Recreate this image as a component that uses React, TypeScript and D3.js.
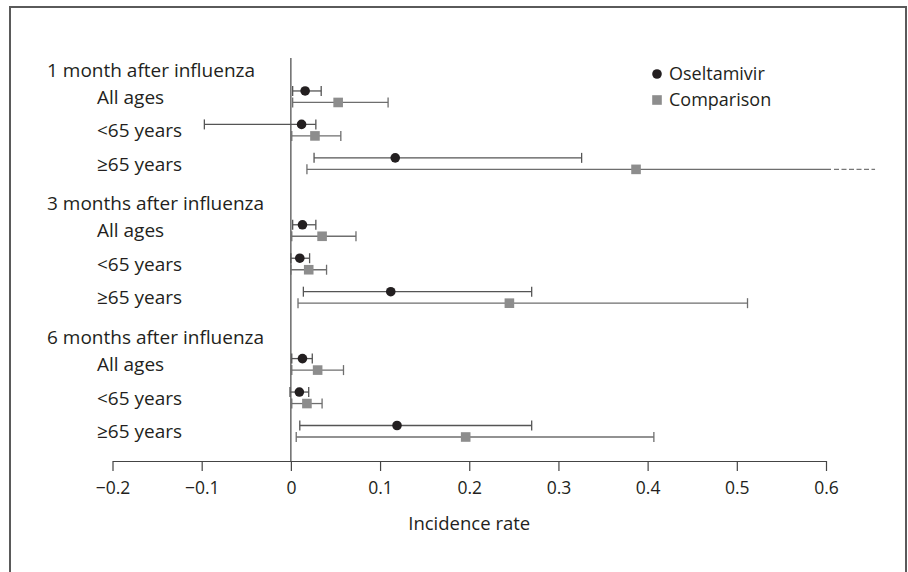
import * as d3 from 'd3';
import { useEffect, useRef } from 'react';

// chart values
const periods = ['1 month after influenza', '3 months after influenza', '6 months after influenza'];
const ageGroups = ['All ages', '<65 years', '≥65 years'];

// one entry per period x age group, in the order above
const oseltamivirRate = [0.016, 0.012, 0.117, 0.013, 0.010, 0.112, 0.013, 0.0095, 0.119];
const oseltamivirLow = [0.002, -0.097, 0.026, 0.002, 0.0, 0.014, 0.001, -0.001, 0.010];
const oseltamivirHigh = [0.034, 0.028, 0.326, 0.028, 0.021, 0.270, 0.024, 0.020, 0.270];

const comparisonRate = [0.053, 0.027, 0.387, 0.035, 0.020, 0.245, 0.030, 0.018, 0.196];
const comparisonLow = [0.002, 0.001, 0.018, 0.001, 0.0, 0.008, 0.001, 0.001, 0.006];
const comparisonHigh = [0.109, 0.056, 0.655, 0.073, 0.040, 0.512, 0.059, 0.035, 0.407];

const xTicks = [-0.2, -0.1, 0, 0.1, 0.2, 0.3, 0.4, 0.5, 0.6];

const FONT = '"Open Sans", sans-serif';
const INK = '#231f20';

export default function App() {
  const ref = useRef<SVGSVGElement>(null);

  useEffect(() => {
    document.body.style.margin = '0';
    const svg = d3.select(ref.current);
    svg.selectAll('*').remove();

    const x = d3.scaleLinear().domain([-0.2, 0.6]).range([112.5, 826]);
    // 12 slots: a header slot then three age rows for each period
    const slot = d3.scaleLinear().domain([0, 11]).range([63.5, 431.5]);
    const axisY = 461;

    // frame
    svg.append('path')
      .attr('d', 'M10,580 L10,7 L906,7 L906,580')
      .attr('fill', 'none')
      .attr('stroke', '#5a5a5a')
      .attr('stroke-width', 2);

    // zero line
    svg.append('line')
      .attr('x1', x(0)).attr('x2', x(0))
      .attr('y1', 58).attr('y2', axisY)
      .attr('stroke', '#444').attr('stroke-width', 1.2);

    // x axis
    const axis = svg.append('g')
      .attr('transform', `translate(0,${axisY})`)
      .call(d3.axisBottom(x).tickValues(xTicks).tickSize(10).tickSizeOuter(0)
        .tickFormat(d => d3.format('')(+d).replace('-', '\u2013')));
    axis.select('.domain').attr('stroke', '#444').attr('stroke-width', 1.2);
    axis.selectAll('.tick line').attr('stroke', '#444').attr('stroke-width', 1.2);
    axis.selectAll('.tick text')
      .attr('font-family', FONT).attr('font-size', 17.5).attr('fill', INK)
      .attr('y', 27).attr('dy', '0.35em');

    svg.append('text')
      .attr('x', x(0.2)).attr('y', 524)
      .attr('dy', '0.35em')
      .attr('text-anchor', 'middle')
      .attr('font-family', FONT).attr('font-size', 18.5).attr('fill', INK)
      .text('Incidence rate');

    const series = [
      { rate: oseltamivirRate, low: oseltamivirLow, high: oseltamivirHigh, off: -6, kind: 'dot' },
      { rate: comparisonRate, low: comparisonLow, high: comparisonHigh, off: 5.5, kind: 'square' },
    ];

    periods.forEach((p, g) => {
      svg.append('text')
        .attr('x', 47).attr('y', slot(g * 4) + 6.5)
        .attr('dy', '0.35em')
        .attr('font-family', FONT).attr('font-size', 19).attr('fill', INK)
        .text(p);

      ageGroups.forEach((a, k) => {
        const i = g * 3 + k;
        const cy = slot(g * 4 + 1 + k);
        svg.append('text')
          .attr('x', 97).attr('y', cy)
          .attr('dy', '0.35em')
          .attr('font-family', FONT).attr('font-size', 19).attr('fill', INK)
          .text(a);

        series.forEach(s => {
          const y = cy + s.off;
          const lo = s.low[i];
          const hi = s.high[i];
          const xmax = x.domain()[1];
          const solidEnd = Math.min(hi, xmax);
          const col = s.kind === 'dot' ? '#555' : '#6e6e6e';
          svg.append('line')
            .attr('x1', x(lo)).attr('x2', hi > xmax ? x(solidEnd) + 5 : x(solidEnd))
            .attr('y1', y).attr('y2', y)
            .attr('stroke', col).attr('stroke-width', 1.3);
          svg.append('line')
            .attr('x1', x(lo)).attr('x2', x(lo))
            .attr('y1', y - 5).attr('y2', y + 5)
            .attr('stroke', col).attr('stroke-width', 1.3);
          if (hi > xmax) {
            svg.append('line')
              .attr('x1', x(xmax) + 8).attr('x2', x(hi))
              .attr('y1', y).attr('y2', y)
              .attr('stroke', '#777').attr('stroke-width', 1.3)
              .attr('stroke-dasharray', '5,2.5');
          } else {
            svg.append('line')
              .attr('x1', x(hi)).attr('x2', x(hi))
              .attr('y1', y - 5).attr('y2', y + 5)
              .attr('stroke', col).attr('stroke-width', 1.3);
          }
          if (s.kind === 'dot') {
            svg.append('circle')
              .attr('cx', x(s.rate[i])).attr('cy', y).attr('r', 4.8)
              .attr('fill', INK);
          } else {
            svg.append('rect')
              .attr('x', x(s.rate[i]) - 4.8).attr('y', y - 4.8)
              .attr('width', 9.6).attr('height', 9.6)
              .attr('fill', '#8d8d8d');
          }
        });
      });
    });

    // legend
    const legend = svg.append('g');
    legend.append('circle').attr('cx', 657).attr('cy', 74).attr('r', 4.8).attr('fill', INK);
    legend.append('rect').attr('x', 652.2).attr('y', 95.2).attr('width', 9.6).attr('height', 9.6).attr('fill', '#8d8d8d');
    legend.append('text').attr('x', 669).attr('y', 74).attr('dy', '0.35em')
      .attr('font-family', FONT).attr('font-size', 18).attr('fill', INK).text('Oseltamivir');
    legend.append('text').attr('x', 669).attr('y', 100).attr('dy', '0.35em')
      .attr('font-family', FONT).attr('font-size', 18).attr('fill', INK).text('Comparison');
  }, []);

  return <svg ref={ref} width={908} height={572} style={{ display: 'block', background: '#fff' }} />;
}
